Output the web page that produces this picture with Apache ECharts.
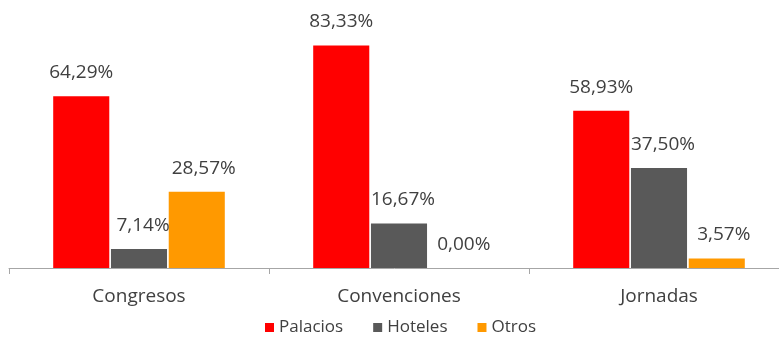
<!DOCTYPE html>
<html>
<head>
<meta charset="utf-8">
<script src="https://cdn.jsdelivr.net/npm/echarts@6/dist/echarts.min.js"></script>
<style>
  html, body { margin: 0; padding: 0; background: #fff; }
  #chart { width: 779px; height: 338px; }
</style>
</head>
<body>
<div id="chart"></div>
<script>
// Event types and the share (%) held by each kind of venue
const categories = ['Congresos', 'Convenciones', 'Jornadas'];
const palacios = [64.29, 83.33, 58.93];
const hoteles = [7.14, 16.67, 37.50];
const otros = [28.57, 0.00, 3.57];

const textColor = '#404040';
const fontFamily = '"Open Sans", "Noto Sans", sans-serif';

function pct(p) {
  return p.value.toFixed(2).replace('.', ',') + '%';
}

function barSeries(name, data, color, dx) {
  return {
    name: name,
    type: 'bar',
    data: data,
    barGap: '3%',
    barCategoryGap: '34%',
    itemStyle: { color: color },
    label: {
      show: true,
      position: 'top',
      distance: 14,
      offset: [dx, 0],
      formatter: pct,
      color: textColor,
      fontFamily: fontFamily,
      fontSize: 19
    }
  };
}

const chart = echarts.init(document.getElementById('chart'));
chart.setOption({
  animation: false,
  // the last category runs a little past the right edge of the canvas
  grid: { left: 9, top: 1, width: 780, height: 267, outerBoundsMode: 'none' },
  legend: {
    left: 260,
    top: 314,
    itemWidth: 9,
    itemHeight: 9,
    itemGap: 30,
    icon: 'rect',
    textStyle: { color: textColor, fontFamily: fontFamily, fontSize: 17 },
    data: ['Palacios', 'Hoteles', 'Otros']
  },
  xAxis: {
    type: 'category',
    data: categories,
    axisLine: { lineStyle: { color: '#a6a6a6', width: 1 } },
    axisTick: { show: true, length: 6, lineStyle: { color: '#a6a6a6' } },
    axisLabel: { color: textColor, fontFamily: fontFamily, fontSize: 19, margin: 19 }
  },
  yAxis: {
    type: 'value',
    min: 0,
    max: 100,
    show: false,
    splitLine: { show: false }
  },
  series: [
    barSeries('Palacios', palacios, '#ff0000', 0),
    barSeries('Hoteles', hoteles, '#595959', 4),
    barSeries('Otros', otros, '#ff9900', 7)
  ]
});
</script>
</body>
</html>
